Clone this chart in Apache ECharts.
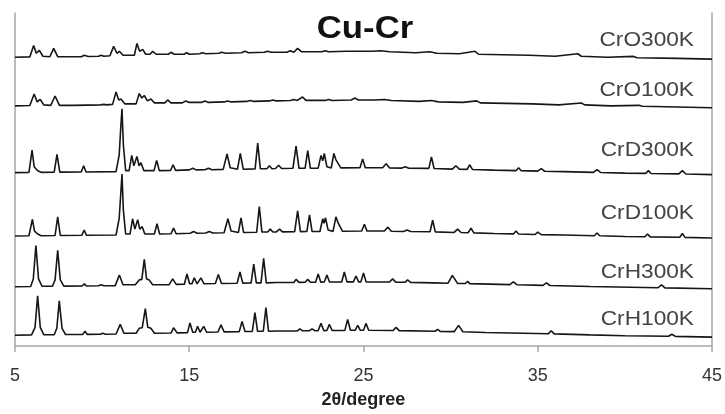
<!DOCTYPE html>
<html>
<head>
<meta charset="utf-8">
<script src="https://cdn.jsdelivr.net/npm/echarts@6/dist/echarts.min.js"></script>
<style>
  html, body { margin: 0; padding: 0; background: #fff; }
  #chart { width: 725px; height: 414px; }
</style>
</head>
<body>
<div id="chart"></div>
<script>
// 2θ (degree) / intensity pairs, relative to each trace's own baseline
var crO300K = [[5,2],[5.85,2.3],[6.07,14],[6.22,6],[6.4,9],[6.6,3],[7.0,2.5],[7.22,11],[7.45,2.5],[8.8,2.5],[8.98,4],[9.2,2.7],[9.8,3],[9.94,4],[10.1,3],[10.45,3.5],[10.66,13],[10.85,6],[10.99,8],[11.2,4],[11.85,4],[12.0,16],[12.15,8],[12.33,10],[12.5,5],[12.75,5],[12.9,8],[13.1,5],[13.8,5],[13.95,7],[14.15,5],[14.7,5],[14.85,6.5],[15.0,5],[15.6,5.5],[15.75,6.5],[15.95,5.5],[16.7,6],[16.85,7],[17.1,6],[18.0,6.5],[18.2,8],[18.4,6.5],[19.3,7],[19.5,8],[19.7,7],[20.6,7],[20.8,8.5],[21.0,7],[21.22,11],[21.45,7.5],[22.6,7.5],[22.8,8.5],[23.0,7.5],[24.0,8],[24.1,10],[24.3,8],[25.5,8],[26.0,8.5],[26.5,7.5],[28.0,6.5],[28.8,7.5],[29.2,6],[30.5,5.5],[31.4,8],[31.6,5],[33.0,4.5],[34.5,4],[36.0,3],[37.3,5.5],[37.5,3],[39.0,2],[40.5,2.8],[40.7,1.5],[43,0.8],[45,0]];
var crO100K = [[5,2],[5.85,2.3],[6.1,14],[6.27,6],[6.45,8.5],[6.65,3],[7.05,2.5],[7.3,12],[7.55,2.5],[8.1,2.5],[8.2,3.5],[8.35,2.5],[9.9,3],[10.1,3.5],[10.25,3],[10.6,3.5],[10.8,16],[10.95,8],[11.08,9],[11.3,4],[11.95,4],[12.13,14.5],[12.28,10],[12.42,12.5],[12.6,7],[12.8,9],[13.0,5],[13.6,5],[13.76,8],[13.95,5],[14.6,5],[14.8,7],[15.0,5.5],[15.7,5.5],[15.9,7],[16.1,5.5],[17.0,6],[17.2,7],[17.4,6],[18.3,6.5],[18.5,7.5],[18.7,6.5],[19.6,7],[19.8,8],[20.0,7],[20.8,7.5],[21.0,8.5],[21.2,7.5],[21.5,11],[21.7,7.5],[22.8,7.5],[23.0,8.5],[23.2,7.5],[24.3,8],[24.5,10],[24.7,8],[25.6,8],[26.2,8.5],[26.6,7.5],[28.2,6.5],[28.9,7.5],[29.3,6],[30.7,5.5],[31.5,7],[31.7,5],[33.2,4.5],[34.7,4],[36.2,3],[37.5,4.8],[37.7,3],[39.2,2],[40.8,2.5],[41.0,1.5],[43,0.8],[45,0]];
var crD300K = [[5,2],[5.8,2.2],[5.98,25],[6.1,8],[6.3,4],[6.5,2.3],[7.25,2.5],[7.41,20.5],[7.57,2.5],[8.8,2.7],[8.94,9],[9.08,2.7],[10.8,3],[10.98,20],[11.06,45],[11.14,67],[11.22,30],[11.35,4],[11.55,4],[11.7,19.5],[11.82,9],[12.0,18.5],[12.12,9],[12.23,12],[12.4,4],[12.98,4],[13.13,14.5],[13.28,4],[13.93,4.2],[14.07,10],[14.22,4.3],[15.0,4.8],[15.2,6.5],[15.4,4.8],[15.9,5],[16.1,6.5],[16.3,5],[16.95,5.3],[17.17,21],[17.35,7],[17.77,5.5],[17.93,21.5],[18.1,5.5],[18.78,5.8],[18.93,32],[19.08,6],[19.45,6],[19.6,9],[19.75,6],[19.95,6.2],[20.13,9.5],[20.3,6.2],[20.95,6.4],[21.13,29],[21.3,6.4],[21.65,6.5],[21.8,24.5],[21.95,6.5],[22.4,6.6],[22.56,19.5],[22.66,14],[22.75,21.5],[22.9,8],[23.15,6.7],[23.3,21.5],[23.42,15],[23.5,16],[23.7,6.8],[24.8,7],[24.95,16],[25.1,7],[26.1,7],[26.3,11],[26.5,6.8],[27.2,6.6],[27.4,8],[27.6,6.5],[28.75,6.3],[28.9,18],[29.05,6.2],[30.1,5.6],[30.3,9],[30.5,5.5],[30.95,5.3],[31.1,10],[31.25,5.2],[32.5,4.5],[33.75,4],[33.9,7],[34.05,4],[35.0,3.5],[35.2,6],[35.4,3.4],[36.5,3],[38.2,2.3],[38.4,5],[38.6,2.2],[40,1.5],[41.2,1.2],[41.35,4],[41.5,1.1],[43.1,0.7],[43.3,4],[43.5,0.6],[45,0]];
var crD100K = [[5,2],[5.8,2.2],[6.0,19],[6.12,7],[6.3,4],[6.5,2.3],[7.3,2.5],[7.45,21.5],[7.6,2.5],[8.83,2.7],[8.97,8],[9.1,2.7],[10.8,3],[10.98,20],[11.06,42],[11.14,65],[11.22,28],[11.35,4],[11.6,4],[11.75,19.5],[11.88,9],[12.04,18.5],[12.16,9],[12.3,11.5],[12.45,4],[13.0,4],[13.15,14.5],[13.3,4],[13.95,4.2],[14.1,10],[14.25,4.3],[15.05,4.8],[15.25,6.5],[15.45,4.8],[15.95,5],[16.15,6.5],[16.35,5],[17.0,5.3],[17.22,19.5],[17.4,7],[17.82,5.5],[17.97,20.5],[18.12,5.5],[18.87,5.8],[19.02,32],[19.17,6],[19.5,6],[19.65,9],[19.8,6],[20.0,6.2],[20.18,9],[20.35,6.2],[21.05,6.4],[21.22,27.5],[21.38,6.4],[21.75,6.5],[21.9,23.5],[22.05,6.5],[22.5,6.6],[22.66,19.5],[22.73,15],[22.82,20.5],[22.97,8],[23.25,6.7],[23.42,21.5],[23.55,15],[23.62,15.5],[23.8,6.8],[24.9,7],[25.05,14],[25.2,7],[26.2,7],[26.4,11],[26.6,6.8],[27.3,6.6],[27.5,8],[27.7,6.5],[28.82,6.3],[28.97,18],[29.12,6.2],[30.2,5.6],[30.4,9],[30.6,5.5],[31.0,5.3],[31.17,10],[31.33,5.2],[32.5,4.5],[33.6,4.1],[33.75,7],[33.9,4],[34.85,3.5],[35.0,6],[35.2,3.4],[36.5,3],[38.25,2.3],[38.4,5],[38.55,2.2],[40,1.5],[41.15,1.2],[41.3,4],[41.45,1.1],[43.15,0.7],[43.3,4.5],[43.45,0.6],[45,0]];
var crH300K = [[5,2],[5.9,2.3],[6.05,10],[6.2,44],[6.35,10],[6.55,2.5],[7.15,2.5],[7.3,9],[7.45,39],[7.6,9],[7.8,2.7],[8.85,2.8],[8.98,5],[9.1,2.8],[9.8,3],[9.94,4],[10.1,3],[10.75,3.2],[10.99,14],[11.2,4],[11.9,4],[12.13,9],[12.28,9.5],[12.42,30],[12.55,10],[12.7,9],[12.9,4],[13.85,4.2],[14.05,10],[14.25,4.4],[14.72,4.6],[14.87,15],[15.02,5],[15.15,5],[15.29,11],[15.45,5],[15.55,5],[15.67,11],[15.85,5],[16.5,5.3],[16.67,14.5],[16.85,5.4],[17.75,5.6],[17.91,17],[18.07,5.7],[18.55,5.8],[18.7,25],[18.85,6],[19.12,6],[19.27,31],[19.42,6],[20.0,6.3],[21.0,6.4],[21.13,9.5],[21.3,6.5],[21.65,6.6],[21.8,9.5],[21.95,6.6],[22.25,6.7],[22.4,15],[22.55,6.7],[22.75,6.8],[22.9,14],[23.05,6.8],[23.75,6.9],[23.9,17],[24.05,7],[24.42,7],[24.57,13],[24.72,7],[24.85,7],[25.0,16],[25.15,7],[26.5,6.8],[26.67,10],[26.85,6.7],[27.4,6.6],[27.53,9],[27.7,6.5],[29.0,6],[29.85,5.6],[30.1,13.5],[30.4,5.5],[30.85,5.3],[30.98,7.5],[31.1,5.2],[33.4,4.2],[33.6,7],[33.8,4.1],[35.3,3.4],[35.5,6],[35.7,3.3],[38,2.3],[41.9,1],[42.1,4],[42.3,0.9],[45,0]];
var crH100K = [[5,2],[5.95,2.3],[6.15,10],[6.3,42],[6.45,10],[6.65,2.5],[7.25,2.5],[7.4,9],[7.54,37],[7.7,9],[7.9,2.7],[8.88,2.8],[9.02,6],[9.15,2.8],[9.9,3],[10.03,4],[10.2,3],[10.8,3.2],[11.04,13],[11.25,4],[11.95,4],[12.13,9],[12.3,9.5],[12.48,29],[12.62,10],[12.8,9],[13.0,4],[13.95,4.2],[14.1,9.5],[14.3,4.4],[14.9,4.6],[15.04,14.5],[15.2,5],[15.35,5],[15.48,11],[15.62,5],[15.7,5],[15.83,11],[16.0,5],[16.65,5.3],[16.82,12.5],[17.0,5.4],[17.87,5.6],[18.03,16],[18.2,5.7],[18.62,5.8],[18.77,25],[18.92,6],[19.25,6],[19.4,30],[19.55,6],[20.0,6.3],[21.2,6.4],[21.35,8.5],[21.5,6.5],[21.9,6.6],[22.05,8.5],[22.2,6.6],[22.4,6.7],[22.56,14],[22.72,6.7],[22.9,6.8],[23.04,13],[23.2,6.8],[23.93,6.9],[24.09,18],[24.25,7],[24.52,7],[24.67,12],[24.82,7],[25.0,7],[25.14,14],[25.3,7],[26.7,6.8],[26.87,10],[27.05,6.7],[29.1,6],[29.26,8],[29.4,5.9],[30.2,5.6],[30.46,12],[30.7,5.5],[32,4.8],[35.6,3.4],[35.77,6.5],[35.95,3.3],[38,2.3],[40,1.5],[42.5,0.9],[42.7,3],[42.9,0.8],[45,0]];

var names = ['CrO300K', 'CrO100K', 'CrD300K', 'CrD100K', 'CrH300K', 'CrH100K'];
var traces = [crO300K, crO100K, crD300K, crD100K, crH300K, crH100K];
// vertical shift of each trace in the stack
var offsets = [292, 242.5, 174.5, 110, 58.3, 9];
var xTicks = [5, 15, 25, 35, 45];

var myChart = echarts.init(document.getElementById('chart'));

var series = traces.map(function (pts, i) {
    return {
        name: names[i],
        type: 'line',
        showSymbol: false,
        silent: true,
        lineStyle: { color: '#161616', width: 1.6 },
        data: pts.map(function (p) { return [p[0], p[1] + offsets[i]]; })
    };
});

// sample labels sit at the right, just above each trace
var labelY = [40, 90.5, 150, 213.5, 272.5, 319];
var graphics = names.map(function (n, i) {
    return {
        type: 'text',
        x: 694,
        y: labelY[i],
        scaleX: 1.08,
        style: {
            text: n,
            fill: '#444',
            font: '21px "Liberation Sans", Arial, sans-serif',
            textAlign: 'right',
            textVerticalAlign: 'middle'
        }
    };
});
graphics.push({
    type: 'text',
    x: 365,
    y: 29,
    scaleX: 1.12,
    style: {
        text: 'Cu-Cr',
        fill: '#111',
        font: 'bold 31px "Liberation Sans", Arial, sans-serif',
        textAlign: 'center',
        textVerticalAlign: 'middle'
    }
});

var edgeAxis = {
    type: 'value',
    min: 0,
    max: 339,
    axisLine: { show: true, lineStyle: { color: '#a6a6a6', width: 1.5 } },
    axisTick: { show: false },
    axisLabel: { show: false },
    splitLine: { show: false }
};

var option = {
    animation: false,
    backgroundColor: '#fff',
    grid: { left: 15, right: 13, top: 13, bottom: 62 },
    xAxis: {
        type: 'value',
        min: xTicks[0],
        max: xTicks[xTicks.length - 1],
        interval: xTicks[1] - xTicks[0],
        axisLine: { lineStyle: { color: '#a6a6a6', width: 1.5 } },
        axisTick: { length: 6, lineStyle: { color: '#a6a6a6', width: 1.5 } },
        axisLabel: {
            margin: 21,
            fontSize: 18,
            color: '#333',
            fontFamily: '"Liberation Sans", Arial, sans-serif'
        },
        splitLine: { show: false },
        name: '2θ/degree',
        nameLocation: 'middle',
        nameGap: 45,
        nameTextStyle: {
            fontSize: 18,
            fontWeight: 'bold',
            color: '#222',
            fontFamily: '"Liberation Sans", Arial, sans-serif'
        }
    },
    yAxis: [
        Object.assign({ position: 'left' }, edgeAxis),
        Object.assign({ position: 'right' }, edgeAxis)
    ],
    graphic: graphics,
    series: series
};

myChart.setOption(option);
</script>
</body>
</html>
